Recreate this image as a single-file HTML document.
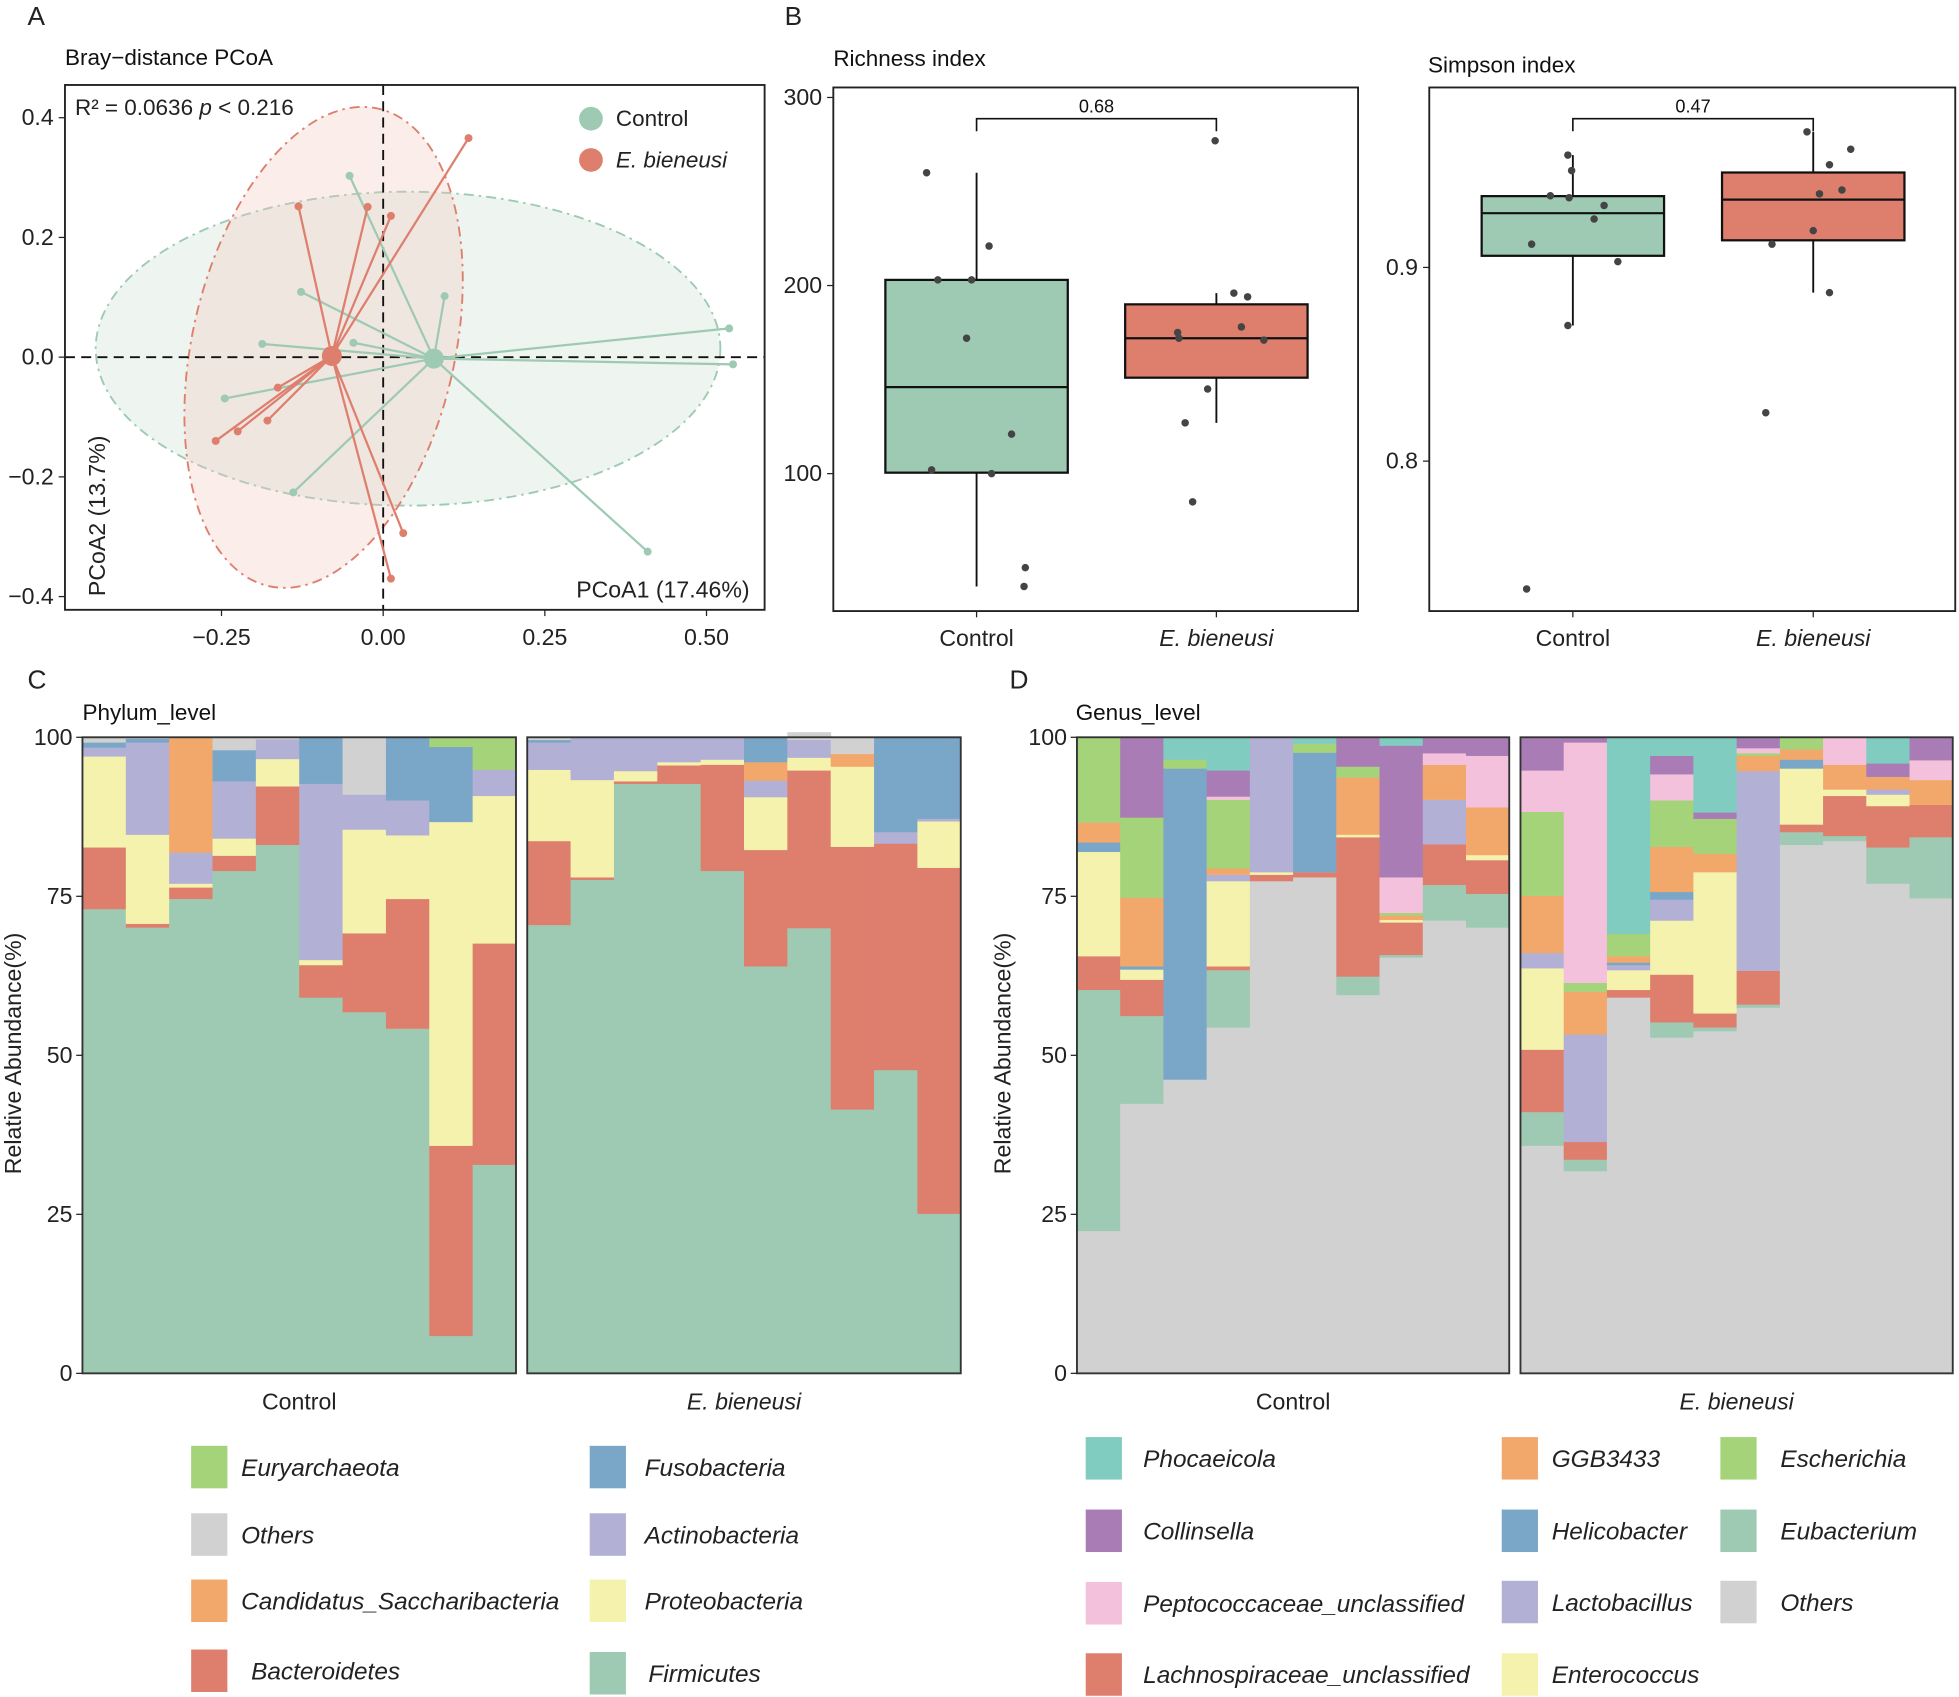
<!DOCTYPE html>
<html><head><meta charset="utf-8"><style>
html,body{margin:0;padding:0;background:#fff;}
svg{display:block;font-family:"Liberation Sans",Arial,sans-serif;}
</style></head><body>
<svg id="fig" width="1959" height="1697" viewBox="0 0 1568 1358" preserveAspectRatio="none" xmlns="http://www.w3.org/2000/svg"></svg>
<script>
// ---------- Panel A data ----------
const ctrlX = [-0.052,0.095,-0.127,-0.187,-0.046,-0.245,-0.139,0.409,0.535,0.541];
const ctrlY = [0.303,0.102,0.109,0.022,0.024,-0.069,-0.226,-0.325,0.048,-0.012];
const ebX = [0.132,-0.131,-0.024,0.012,-0.163,-0.179,-0.225,-0.259,0.031,0.012];
const ebY = [0.366,0.252,0.251,0.236,-0.051,-0.106,-0.124,-0.140,-0.294,-0.370];
const pcoaXTicks = [-0.25,0,0.25,0.5];
const pcoaXLabels = ["\u22120.25","0.00","0.25","0.50"];
const pcoaYTicks = [0.4,0.2,0,-0.2,-0.4];
const pcoaYLabels = ["0.4","0.2","0.0","\u22120.2","\u22120.4"];
// ---------- Panel B data ----------
const richCtrl = [260,221,203,203,172,121,102,100,50,40];
const richEb = [277,196,194,175,172,178,171,145,127,85];
const richCtrlBox = [40,100.5,146,203,260]; // min q1 med q3 max
const richEbBox = [127,151,172,190,196];
const richTicks = [100,200,300];
const simpCtrl = [0.958,0.950,0.937,0.936,0.932,0.925,0.912,0.903,0.870,0.734];
const simpEb = [0.970,0.961,0.953,0.940,0.938,0.919,0.912,0.887,0.825];
const simpCtrlBox = [0.870,0.906,0.928,0.9368,0.958];
const simpEbBox = [0.887,0.914,0.935,0.949,0.970];
const simpTicks = [0.8,0.9];
const ctrlJitter = [-40,10,-31,-4,-8,28,-36,12,39,38];
const ebJitter = [-1,14,25,-31,-30,20,38,-7,-25,-19];
const ctrlJitterS = [-4,-1,-18,-3,25,17,-33,36,-4,-37];
const ebJitterS = [-5,30,13,23,5,0,-33,13,-38];
// ---------- Panel C data (bottom-up stack order) ----------
const phyla = ["Firmicutes","Bacteroidetes","Proteobacteria","Actinobacteria","Candidatus_Saccharibacteria","Fusobacteria","Others","Euryarchaeota"];
const phylumCtrl = [
 [73,9.7,14.3,1.4,0,0.8,0.8,0],
 [70.1,0.6,14,14.5,0,0.6,0.2,0],
 [74.6,1.8,0.6,4.9,18,0,0.1,0],
 [79,2.4,2.7,9,0,4.9,2,0],
 [83.1,9.2,4.3,3.1,0,0,0.3,0],
 [59.1,5.1,0.8,27.7,0,7.3,0,0],
 [56.8,12.4,16.3,5.5,0,0,9,0],
 [54.2,20.4,10,5.5,0,9.8,0,0],
 [5.9,29.9,50.9,0,0,11.8,0,1.5],
 [32.8,34.8,23.2,4.1,0,0,0,5.1]];
const phylumEb = [
 [70.5,13.2,11.2,4.3,0,0.4,0.4,0],
 [77.6,0.4,15.3,6.7,0,0,0,0],
 [92.7,0.4,1.6,5.3,0,0,0,0],
 [92.7,2.9,0.5,3.9,0,0,0,0],
 [79,16.7,0.8,3.5,0,0,0,0],
 [64,18.3,8.3,2.6,2.9,3.9,0,0],
 [70,24.8,2,2.8,0,0,1.2,0],
 [41.5,41.3,12.6,0,2,0,2.6,0],
 [47.7,35.6,0,1.8,0,14.9,0,0],
 [25.1,54.4,7.3,0.4,0,12.8,0,0]];
// ---------- Panel D data ----------
const genera = ["Others","Eubacterium","Lachnospiraceae_unclassified","Enterococcus","Lactobacillus","Helicobacter","GGB3433","Escherichia","Peptococcaceae_unclassified","Collinsella","Phocaeicola"];
const genusCtrl = [
 [22.4,37.9,5.3,16.4,0,1.5,3.1,13.4,0,0,0],
 [42.4,13.8,5.7,1.6,0,0.5,10.8,12.6,0,12.6,0],
 [46.2,0,0,0,0,48.9,0,1.4,0,0,3.5],
 [54.4,9,0.6,13.4,1,0,1,10.8,0.5,4.1,5.2],
 [77.4,0,1,0.4,21.2,0,0,0,0,0,0],
 [78,0,0.8,0,0,18.8,0,1.4,0,0,1],
 [59.5,2.9,21.9,0.4,0,0,9,1.7,0,4.6,0],
 [65.4,0.4,5.1,0.4,0,0,0.7,0.4,5.6,20.7,1.3],
 [71.2,5.6,6.4,0,7,0,5.5,0,1.8,2.5,0],
 [70.1,5.3,5.3,0.8,0,0,7.5,0,8.1,2.9,0]];
const genusEb = [
 [35.8,5.3,9.8,12.8,2.4,0,9,13.2,6.5,5.3,0],
 [31.8,1.8,2.8,0,16.9,0,6.7,1.4,37.8,0.8,0],
 [59.1,0,1.2,3.1,0.8,0.4,1,3.5,0,0,30.9],
 [52.8,2.4,7.5,8.5,3.3,1.2,7.1,7.3,4.1,2.9,2.9],
 [53.8,0.6,2.2,22.2,0,0,2.9,5.5,0,1,11.8],
 [57.5,0.5,5.3,0,31.4,0,2.4,0.4,0.8,1.7,0],
 [83.1,2,1.2,8.8,0,1.4,1.6,1.9,0,0,0],
 [83.7,0.8,6.3,1,0,0,3.9,0,4.3,0,0],
 [77,5.7,6.5,1.8,0.8,0,2,0,0,2.1,4.1],
 [74.7,9.6,5.1,0,0,0,3.9,0,3.1,3.6,0]];
const abTicks = [0,25,50,75,100];

const phylumColors = {"Firmicutes":"#9ecab3","Bacteroidetes":"#de7f6e","Proteobacteria":"#f4f2ac","Actinobacteria":"#b2b0d4","Candidatus_Saccharibacteria":"#f3a86b","Fusobacteria":"#7aa7c8","Others":"#d1d1d2","Euryarchaeota":"#a4d37a"};
const genusColors = {"Phocaeicola":"#80ccc0","Collinsella":"#a97cb6","Peptococcaceae_unclassified":"#f3c1dc","Lachnospiraceae_unclassified":"#de7f6e","GGB3433":"#f3a86b","Helicobacter":"#7aa7c8","Lactobacillus":"#b2b0d4","Enterococcus":"#f4f2ac","Escherichia":"#a4d37a","Eubacterium":"#9ecab3","Others":"#d1d1d2"};

const NS="http://www.w3.org/2000/svg";
const svg=document.getElementById('fig');
function el(tag,attrs,parent){const e=document.createElementNS(NS,tag);for(const k in attrs)e.setAttribute(k,attrs[k]);(parent||svg).appendChild(e);return e;}
function txt(s,attrs,parent){const t=el('text',attrs,parent);t.textContent=s;return t;}
const FS=18.5;

// ---------- Panel letters & titles ----------
const letters=[["A",22,20],["B",628,20],["C",22,551],["D",808,551]];
letters.forEach(l=>{const t=txt(l[0],{x:l[1],y:l[2],'font-size':21,fill:'#222'});

});
const titles=[["Bray\u2212distance PCoA",52,52],["Richness index",667,53],["Simpson index",1143,58],["Phylum_level",66,576],["Genus_level",861,576]];
titles.forEach(l=>{const t=txt(l[0],{x:l[1],y:l[2],'font-size':18,fill:'#111'});

});

// ---------- Panel A ----------
const A={l:52,r:612,t:68,b:488};
const ax=v=>306.7+v*517.6, ay=v=>285.8-v*479;
const gA=el('g',{});


const ellC=el('ellipse',{cx:326.6,cy:279,rx:250,ry:125.6,fill:'#9ecab3','fill-opacity':0.18,stroke:'#9ecab3','stroke-width':1.5,'stroke-dasharray':'8 4 2 4'},gA);


const ellE=el('ellipse',{cx:259,cy:278,rx:105,ry:196,transform:'rotate(13 259 278)',fill:'#f3c4b8','fill-opacity':0.3,stroke:'#de7f6e','stroke-width':1.5,'stroke-dasharray':'8 4 2 4'},gA);


el('line',{x1:A.l,x2:A.r,y1:ay(0),y2:ay(0),stroke:'#111','stroke-width':1.5,'stroke-dasharray':'8 5'},gA);
el('line',{x1:ax(0),x2:ax(0),y1:A.t,y2:A.b,stroke:'#111','stroke-width':1.5,'stroke-dasharray':'8 5'},gA);
function groupSpider(xs,ys,col,name){
  const mx=xs.reduce((a,b)=>a+b,0)/xs.length, my=ys.reduce((a,b)=>a+b,0)/ys.length;
  xs.forEach((x,i)=>{
    const ln=el('line',{x1:ax(mx),y1:ay(my),x2:ax(x),y2:ay(ys[i]),stroke:col,'stroke-width':1.8},gA);
    
    
    const c=el('circle',{cx:ax(x),cy:ay(ys[i]),r:3.2,fill:col},gA);
    
    
  });
  const cc=el('circle',{cx:ax(mx),cy:ay(my),r:8,fill:col},gA);
  
  
}
groupSpider(ctrlX,ctrlY,'#9ecab3','control');
groupSpider(ebX,ebY,'#de7f6e','ebieneusi');
el('rect',{x:A.l,y:A.t,width:A.r-A.l,height:A.b-A.t,fill:'none',stroke:'#222','stroke-width':1.5},gA);
pcoaXTicks.forEach((v,i)=>{el('line',{x1:ax(v),x2:ax(v),y1:A.b,y2:A.b+5,stroke:'#222'},gA);
 const t=txt(pcoaXLabels[i],{x:ax(v),y:A.b+28,'font-size':FS,'text-anchor':'middle',fill:'#222'},gA);
 
 });
pcoaYTicks.forEach((v,i)=>{el('line',{x1:A.l-5,x2:A.l,y1:ay(v),y2:ay(v),stroke:'#222'},gA);
 const t=txt(pcoaYLabels[i],{x:A.l-9,y:ay(v)+6,'font-size':FS,'text-anchor':'end',fill:'#222'},gA);
 
 });
const r2=el('text',{x:60,y:92,'font-size':18,fill:'#222'},gA);
r2.innerHTML='R\u00b2 = 0.0636 <tspan font-style="italic">p</tspan> &lt; 0.216';


const xt=txt('PCoA1 (17.46%)',{x:600,y:478,'font-size':FS,'text-anchor':'end',fill:'#222'},gA);


const yt=txt('PCoA2 (13.7%)',{x:0,y:0,'font-size':FS,'text-anchor':'start',fill:'#222',transform:'translate(84,477) rotate(-90)'},gA);


[["Control",'#9ecab3',95,false],["E. bieneusi",'#de7f6e',128,true]].forEach(l=>{
 const c=el('circle',{cx:473,cy:l[2],r:9.5,fill:l[1]},gA);
 
 
 const t=txt(l[0],{x:493,y:l[2]+6,'font-size':18,fill:'#222','font-style':l[3]?'italic':'normal'},gA);
 
 
});

// ---------- Panel B ----------
function boxPanel(P,yf,ticks,tickFmt,box1,box2,pts1,pts2,j1,j2,pval,name){
  const g=el('g',{});
  
  
  const cxs=[P.l+(P.r-P.l)*0.273,P.l+(P.r-P.l)*0.73], hw=73;
  [[box1,'#9ecab3'],[box2,'#de7f6e']].forEach((b,k)=>{
    const bx=b[0], cx=cxs[k];
    el('line',{x1:cx,x2:cx,y1:yf(bx[4]),y2:yf(bx[0]),stroke:'#111','stroke-width':1.5},g);
    const r=el('rect',{x:cx-hw,y:yf(bx[3]),width:2*hw,height:yf(bx[1])-yf(bx[3]),fill:b[1],stroke:'#111','stroke-width':1.8},g);
    
    
    el('line',{x1:cx-hw,x2:cx+hw,y1:yf(bx[2]),y2:yf(bx[2]),stroke:'#111','stroke-width':1.8},g);
  });
  [[pts1,j1,0],[pts2,j2,1]].forEach(s=>{s[0].forEach((v,i)=>{
    const c=el('circle',{cx:cxs[s[2]]+s[1][i],cy:yf(v),r:3,fill:'#444'},g);
    
    
  });});
  el('rect',{x:P.l,y:P.t,width:P.r-P.l,height:P.b-P.t,fill:'none',stroke:'#222','stroke-width':1.5},g);
  ticks.forEach(v=>{el('line',{x1:P.l-5,x2:P.l,y1:yf(v),y2:yf(v),stroke:'#222'},g);
    const t=txt(tickFmt(v),{x:P.l-9,y:yf(v)+6,'font-size':FS,'text-anchor':'end',fill:'#222'},g);
    
    });
  ["Control","E. bieneusi"].forEach((s,k)=>{el('line',{x1:cxs[k],x2:cxs[k],y1:P.b,y2:P.b+5,stroke:'#222'},g);
    const t=txt(s,{x:cxs[k],y:P.b+28,'font-size':FS,'text-anchor':'middle',fill:'#222','font-style':k?'italic':'normal'},g);
    
    });
  el('path',{d:`M${cxs[0]},105 V95 H${cxs[1]} V105`,fill:'none',stroke:'#111','stroke-width':1.3},g);
  const p=txt(pval,{x:(cxs[0]+cxs[1])/2,y:90,'font-size':14.5,'text-anchor':'middle',fill:'#111'},g);
  
  
}
const PR={l:667,r:1087,t:70,b:489}, PS={l:1144,r:1565,t:70,b:489};
boxPanel(PR,v=>379-(v-100)*1.505,richTicks,v=>String(v),richCtrlBox,richEbBox,richCtrl,richEb,ctrlJitter,ebJitter,'0.68','richness-plot');
boxPanel(PS,v=>214-(v-0.9)*1550,simpTicks,v=>v.toFixed(1),simpCtrlBox,simpEbBox,simpCtrl,simpEb,ctrlJitterS,ebJitterS,'0.47','simpson-plot');

// ---------- Panels C & D ----------
function stackPanel(facets,order,colors,data1,data2,name,ylabX,axisX){
  const g=el('g',{});
  
  
  const yf=v=>1099-v*5.09;
  [[facets[0],data1,'Control'],[facets[1],data2,'E. bieneusi']].forEach((f,k)=>{
    const F=f[0], bw=(F[1]-F[0])/f[1].length;
    f[1].forEach((bar,i)=>{let cum=0;
      bar.forEach((v,j)=>{if(v<=0)return;
        const r=el('rect',{x:F[0]+i*bw,y:yf(cum+v),width:bw+0.4,height:v*5.09+0.2,fill:colors[order[j]]},g);
        
        
        cum+=v;});
      if(cum<100){el('rect',{x:F[0]+i*bw,y:yf(100),width:bw+0.4,height:(100-cum)*5.09,fill:colors[order[order.length-1]]},g);}
    });
    el('rect',{x:F[0],y:yf(100),width:F[1]-F[0],height:509,fill:'none',stroke:'#333','stroke-width':1.5},g);
    const t=txt(f[2],{x:(F[0]+F[1])/2,y:1128,'font-size':FS,'text-anchor':'middle',fill:'#222','font-style':k?'italic':'normal'},g);
    
    
  });
  abTicks.forEach(v=>{el('line',{x1:axisX-5,x2:axisX,y1:yf(v),y2:yf(v),stroke:'#222'},g);
    const t=txt(String(v),{x:axisX-8,y:yf(v)+6,'font-size':FS,'text-anchor':'end',fill:'#222'},g);
    
    });
  const yt=txt('Relative Abundance(%)',{x:0,y:0,'font-size':FS,'text-anchor':'middle',fill:'#222',transform:`translate(${ylabX},843) rotate(-90)`},g);
  
  
}
stackPanel([[66,413],[422,769]],phyla,phylumColors,phylumCtrl,phylumEb,'phylum-stacked-bars',17,66);
stackPanel([[862,1208],[1217,1563]],genera,genusColors,genusCtrl,genusEb,'genus-stacked-bars',809,862);

// ---------- Legends ----------
function legend(items,colors){items.forEach(it=>{
  const r=el('rect',{x:it[1],y:it[3]-17,width:29,height:34,fill:colors[it[0]]});
  
  
  const t=txt(it[0],{x:it[2],y:it[3]+7,'font-size':19.5,'font-style':'italic',fill:'#222'});
  
  
});}
legend([["Euryarchaeota",153,193,1174],["Others",153,193,1228],["Candidatus_Saccharibacteria",153,193,1281],["Bacteroidetes",153,201,1337],
 ["Fusobacteria",472,516,1174],["Actinobacteria",472,516,1228],["Proteobacteria",472,516,1281],["Firmicutes",472,519,1339]],phylumColors);
legend([["Phocaeicola",869,915,1167],["Collinsella",869,915,1225],["Peptococcaceae_unclassified",869,915,1283],["Lachnospiraceae_unclassified",869,915,1340],
 ["GGB3433",1202,1242,1167],["Helicobacter",1202,1242,1225],["Lactobacillus",1202,1242,1282],["Enterococcus",1202,1242,1340],
 ["Escherichia",1377,1425,1167],["Eubacterium",1377,1425,1225],["Others",1377,1425,1282]],genusColors);
</script>
</body></html>
